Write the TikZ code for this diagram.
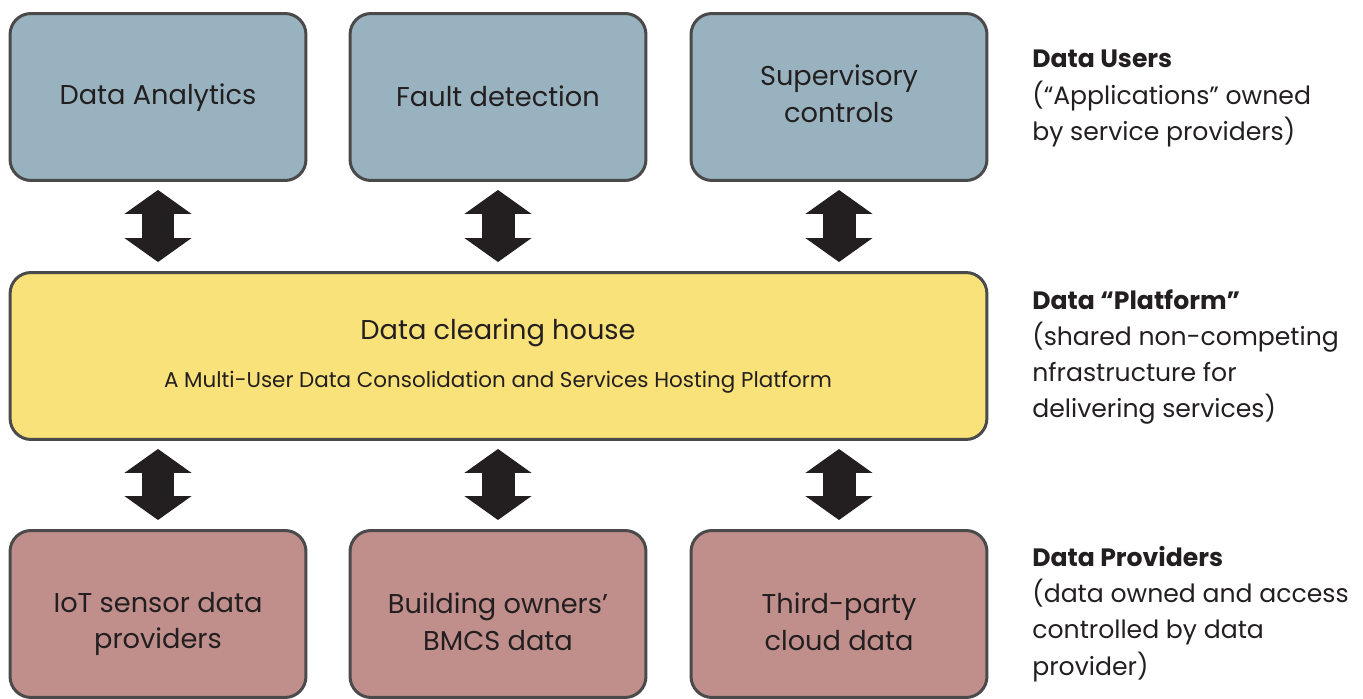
\documentclass[tikz,border=0pt]{standalone}
\usepackage{fontspec}
\setmainfont{Poppins}
\usetikzlibrary{arrows.meta}

\definecolor{userfill}{HTML}{98B3BF}
\definecolor{platfill}{HTML}{F9E27A}
\definecolor{provfill}{HTML}{C08F8C}
\definecolor{boxline}{HTML}{4A4A4A}
\definecolor{arrowcol}{HTML}{231F20}
\definecolor{textcol}{HTML}{231F20}

\tikzset{
  box/.style={draw=boxline, line width=1.7pt, rounded corners=0.42cm,
    minimum width=5.92cm, minimum height=3.34cm},
  boxtext/.style={align=center, inner sep=0pt, text=textcol,
    font=\fontsize{15.5}{20.8}\selectfont},
  dblarrow/.style={arrowcol, line width=0.66cm,
    {Triangle[length=0.48cm,width=1.32cm]}-{Triangle[length=0.48cm,width=1.32cm]},
    shorten <=0.16cm, shorten >=0.18cm},
  sidetext/.style={anchor=north west, inner sep=0pt, align=left,
    text=textcol, font=\fontsize{14.3}{20.6}\selectfont}
}

\begin{document}
\begin{tikzpicture}[x=0.02cm,y=-0.02cm]
\useasboundingbox (0,0) rectangle (1363,699);

% data users
\node[box,fill=userfill] (ana) at (158,97) {};
\node[box,fill=userfill] (fault) at (498,97) {};
\node[box,fill=userfill] (super) at (839,97) {};
\node[boxtext] (anatext) at (158,98) {Data Analytics};
\node[boxtext] (faulttext) at (498,96) {Fault detection};
\node[boxtext] (supertext) at (839,94) {Supervisory\\controls};

% platform
\node[box,fill=platfill,minimum width=19.54cm] (dch) at (498.5,356) {};
\node[boxtext] (dchtitle) at (498,333) {Data clearing house};
\node[boxtext,font=\fontsize{12.2}{14}\selectfont] (dchsub) at (498,382) {A Multi-User Data Consolidation and Services Hosting Platform};

% data providers
\node[box,fill=provfill] (iot) at (158,614) {};
\node[box,fill=provfill] (bmcs) at (498,614) {};
\node[box,fill=provfill] (cloud) at (839,614) {};
\node[boxtext] (iottext) at (158,624) {IoT sensor data\\providers};
\node[boxtext] (bmcstext) at (498,622) {Building owners’\\BMCS data};
\node[boxtext] (cloudtext) at (839,622) {Third-party\\cloud data};

% arrows
\draw[dblarrow] (ana.south) -- (ana.south |- dch.north);
\draw[dblarrow] (fault.south) -- (fault.south |- dch.north);
\draw[dblarrow] (super.south) -- (super.south |- dch.north);
\draw[dblarrow] (dch.south -| iot.north) -- (iot.north);
\draw[dblarrow] (dch.south -| bmcs.north) -- (bmcs.north);
\draw[dblarrow] (dch.south -| cloud.north) -- (cloud.north);

% side labels
\node[sidetext] (users) at (1032,50) {\textbf{Data Users}\\(“Applications” owned\\by service providers)};
\node[sidetext] (plat) at (1032,289) {\textbf{Data “Platform”}\\(shared non-competing\\nfrastructure for\\delivering services)};
\node[sidetext] (prov) at (1032,546) {\textbf{Data Providers}\\(data owned and access\\controlled by data\\provider)};
\end{tikzpicture}
\end{document}
